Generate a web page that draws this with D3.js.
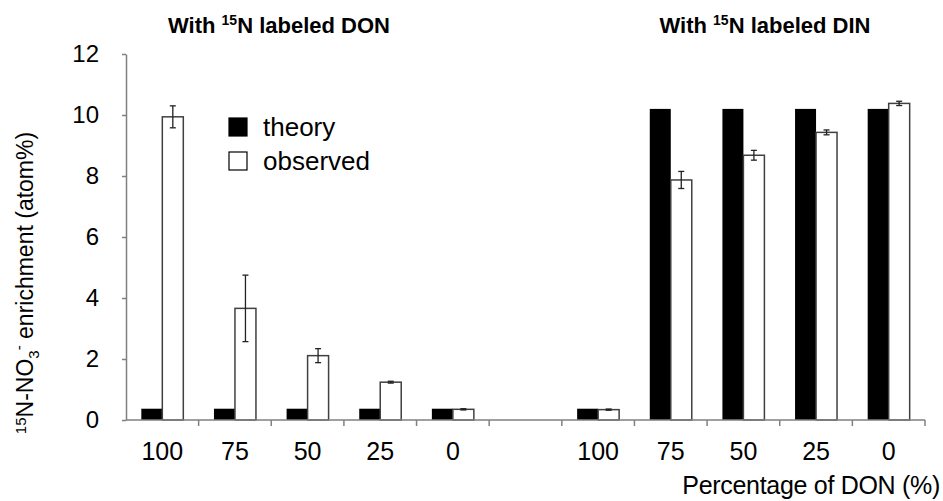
<!DOCTYPE html>
<html>
<head>
<meta charset="utf-8">
<script src="https://cdn.jsdelivr.net/npm/d3@7"></script>
<style>
  body { margin: 0; background: #fff; }
  svg { display: block; font-family: "Liberation Sans", Arial, sans-serif; }
</style>
</head>
<body>
<svg id="chart" width="943" height="501"></svg>
<script>
// slots along the x axis (one empty slot separates the two panels)
const categories = ["DON 100", "DON 75", "DON 50", "DON 25", "DON 0", "gap",
  "DIN 100", "DIN 75", "DIN 50", "DIN 25", "DIN 0"];
const tickLabels = ["100", "75", "50", "25", "0", "", "100", "75", "50", "25", "0"];
const series = ["theory", "observed"];
const theory = [0.37, 0.37, 0.37, 0.37, 0.37, null, 0.37, 10.2, 10.2, 10.2, 10.2];
const observed = [9.94, 3.66, 2.11, 1.24, 0.35, null, 0.34, 7.87, 8.68, 9.43, 10.38];
const observedErr = [0.36, 1.09, 0.23, 0.03, 0.02, null, 0.02, 0.28, 0.16, 0.08, 0.07];
const yTicks = [0, 2, 4, 6, 8, 10, 12];

const width = 943, height = 501;
const marginLeft = 126, marginRight = 18, marginTop = 54, marginBottom = 81;
const axisColor = "#808080";

const svg = d3.select("#chart");

const x = d3.scaleBand(categories, [marginLeft, width - marginRight]).paddingInner(0).paddingOuter(0);
const xSub = d3.scaleBand(series, [0, x.bandwidth()]).paddingInner(0).paddingOuter(0.73);
const y = d3.scaleLinear([0, 12], [height - marginBottom, marginTop]);

// bars
const rows = categories.map((c, i) => ({ c, i })).filter(d => theory[d.i] != null);

const groups = svg.append("g").selectAll("g")
  .data(rows)
  .join("g")
  .attr("transform", d => `translate(${x(d.c)},0)`);

groups.append("rect")
  .attr("x", xSub("theory"))
  .attr("y", d => y(theory[d.i]))
  .attr("width", xSub.bandwidth())
  .attr("height", d => y(0) - y(theory[d.i]))
  .attr("fill", "#000");

groups.append("rect")
  .attr("x", xSub("observed"))
  .attr("y", d => y(observed[d.i]))
  .attr("width", xSub.bandwidth())
  .attr("height", d => y(0) - y(observed[d.i]))
  .attr("fill", "#fff")
  .attr("stroke", "#404040")
  .attr("stroke-width", 1.5);

// error bars on observed
const err = groups.append("g")
  .attr("stroke", "#222")
  .attr("stroke-width", 1.3)
  .attr("transform", `translate(${xSub("observed") + xSub.bandwidth() / 2},0)`);
err.append("line")
  .attr("y1", d => y(observed[d.i] + observedErr[d.i]))
  .attr("y2", d => y(observed[d.i] - observedErr[d.i]));
err.append("line")
  .attr("x1", -3).attr("x2", 3)
  .attr("y1", d => y(observed[d.i] + observedErr[d.i]))
  .attr("y2", d => y(observed[d.i] + observedErr[d.i]));
err.append("line")
  .attr("x1", -3).attr("x2", 3)
  .attr("y1", d => y(observed[d.i] - observedErr[d.i]))
  .attr("y2", d => y(observed[d.i] - observedErr[d.i]));

// y axis
const yAxis = svg.append("g")
  .attr("transform", `translate(${marginLeft},0)`)
  .call(d3.axisLeft(y).tickValues(yTicks).tickSize(4).tickPadding(23).tickSizeOuter(0));
yAxis.select(".domain").attr("stroke", axisColor).attr("stroke-width", 1.5);
yAxis.selectAll(".tick line").attr("stroke", axisColor).attr("stroke-width", 1.5);
yAxis.selectAll(".tick text")
  .attr("font-size", 24)
  .attr("fill", "#000");

// x axis: ticks sit on slot boundaries, labels in slot centres
const xAxis = svg.append("g")
  .attr("transform", `translate(0,${y(0)})`);
xAxis.append("line")
  .attr("x1", marginLeft).attr("x2", width - marginRight)
  .attr("stroke", axisColor).attr("stroke-width", 1.5);
xAxis.selectAll(".xt")
  .data(categories)
  .join("line")
  .attr("class", "xt")
  .attr("x1", d => x(d) + x.bandwidth())
  .attr("x2", d => x(d) + x.bandwidth())
  .attr("y1", 0).attr("y2", 6)
  .attr("stroke", axisColor).attr("stroke-width", 1.5);
xAxis.selectAll(".xl")
  .data(categories)
  .join("text")
  .attr("class", "xl")
  .attr("x", d => x(d) + x.bandwidth() / 2)
  .attr("y", 40)
  .attr("text-anchor", "middle")
  .attr("font-size", 25)
  .text((d, i) => tickLabels[i]);

// axis titles
svg.append("text")
  .attr("x", 940).attr("y", 494)
  .attr("text-anchor", "end")
  .attr("font-size", 25)
  .attr("letter-spacing", -0.3)
  .text("Percentage of DON (%)");

const yl = svg.append("text")
  .attr("transform", "translate(33,283) rotate(-90)")
  .attr("text-anchor", "middle")
  .attr("font-size", 23);
yl.append("tspan").attr("font-size", 15).attr("dy", -7).text("15");
yl.append("tspan").attr("dy", 7).text("N-NO");
yl.append("tspan").attr("font-size", 15).attr("dy", 6).text("3");
yl.append("tspan").attr("font-size", 15).attr("dy", -15).text("-");
yl.append("tspan").attr("dy", 9).text(" enrichment (atom%)");

// panel titles
const titles = [{ x: 279, t: "DON" }, { x: 765, t: "DIN" }];
titles.forEach(p => {
  const t = svg.append("text")
    .attr("x", p.x).attr("y", 33)
    .attr("text-anchor", "middle")
    .attr("font-size", 22)
    .attr("font-weight", "bold");
  t.append("tspan").text("With ");
  t.append("tspan").attr("font-size", 14).attr("dy", -8).text("15");
  t.append("tspan").attr("dy", 8).text("N labeled " + p.t);
});

// legend
const legend = svg.append("g").attr("transform", "translate(229,118)");
legend.selectAll("g")
  .data(series)
  .join("g")
  .attr("transform", (d, i) => `translate(0,${i * 34})`)
  .call(g => g.append("rect")
    .attr("width", 18).attr("height", 18)
    .attr("fill", d => d === "theory" ? "#000" : "#fff")
    .attr("stroke", "#000").attr("stroke-width", 1.2))
  .call(g => g.append("text")
    .attr("x", 34).attr("y", 18)
    .attr("font-size", 26)
    .text(d => d));
</script>
</body>
</html>
